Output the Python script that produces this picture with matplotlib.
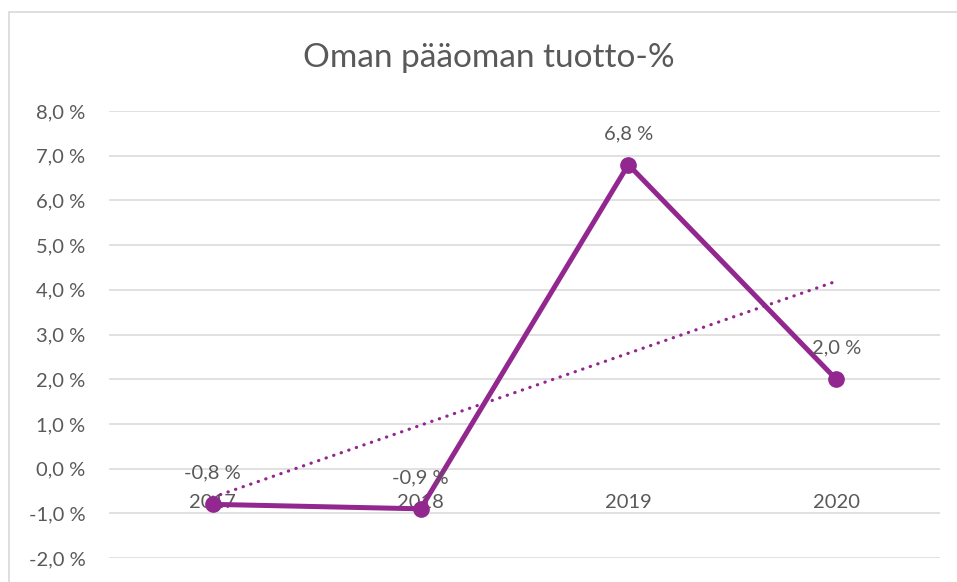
import numpy as np
import matplotlib.pyplot as plt
from matplotlib.patches import Rectangle
from matplotlib.ticker import FuncFormatter

# data
years = ["2017", "2018", "2019", "2020"]
roe = [-0.8, -0.9, 6.8, 2.0]
yticks = [-2, -1, 0, 1, 2, 3, 4, 5, 6, 7, 8]

purple = "#92278F"
text_col = "#595959"
grid_col = "#d9d9d9"

plt.rcParams['font.family'] = ['Lato', 'DejaVu Sans']

fig = plt.figure(figsize=(9.57, 5.82), dpi=100)
ax = fig.add_axes([109 / 957, 1 - 558 / 582, 831 / 957, 447 / 582])

x = np.arange(len(years))

# linear trendline (like Excel)
k, b = np.polyfit(x, roe, 1)
ax.plot(x, k * x + b, color=purple, lw=2.3, linestyle=(0, (0.1, 2.4)),
        dash_capstyle='round', zorder=2)

ax.plot(x, roe, color=purple, lw=3.6, marker='o', markersize=11, zorder=3)

fmt = lambda v: f"{v:.1f} %".replace('.', ',')
for xi, v in zip(x, roe):
    ax.annotate(fmt(v), (xi, v), xytext=(0, 22.5), textcoords='offset points',
                ha='center', va='center', fontsize=14.5, color=text_col, zorder=4)

# category labels sit at the zero line
for xi, lab in zip(x, years):
    ax.annotate(lab, (xi, 0), xytext=(0, -24.5), textcoords='offset points',
                ha='center', va='center', fontsize=14.5, color=text_col, zorder=1)

ax.set_xlim(-0.5, len(years) - 0.5)
ax.set_ylim(-2, 8)
ax.set_yticks(yticks)
ax.yaxis.set_major_formatter(FuncFormatter(lambda v, p: fmt(v)))
ax.set_xticks([])
ax.tick_params(axis='y', length=0, pad=17, labelsize=14.5, labelcolor=text_col)
ax.grid(axis='y', color=grid_col, lw=1.1)
ax.set_axisbelow(True)
for s in ax.spines.values():
    s.set_visible(False)

fig.text(489 / 957, 1 - 58 / 582, "Oman pääoman tuotto-%", ha='center', va='center',
         fontsize=24, color=text_col)

# chart border
fig.patches.append(Rectangle((9 / 957, -0.1), 1.0, 1.1 - 12 / 582, transform=fig.transFigure,
                             fill=False, edgecolor=grid_col, lw=1.2))

fig.savefig("out.png", dpi=100)
